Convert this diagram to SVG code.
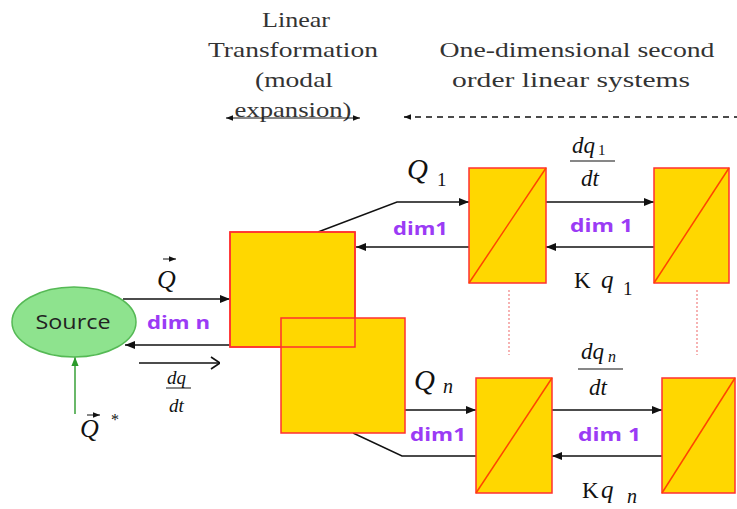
<svg xmlns="http://www.w3.org/2000/svg" width="737" height="509" viewBox="0 0 737 509">
<defs>
<marker id="ah" viewBox="0 0 10 10" refX="10" refY="5" markerWidth="10" markerHeight="10" markerUnits="userSpaceOnUse" orient="auto">
<path d="M0,1 L10,5 L0,9 z" fill="#111"/>
</marker>
<marker id="ahs" viewBox="0 0 10 10" refX="10" refY="5" markerWidth="7" markerHeight="7" markerUnits="userSpaceOnUse" orient="auto-start-reverse">
<path d="M0,1 L10,5 L0,9 z" fill="#111"/>
</marker>
<marker id="open" viewBox="0 0 10 14" refX="10" refY="7" markerWidth="10" markerHeight="14" markerUnits="userSpaceOnUse" orient="auto">
<path d="M1,1 L10,7 L1,13" fill="none" stroke="#111" stroke-width="1.6"/>
</marker>
<marker id="gh" viewBox="0 0 10 10" refX="10" refY="5" markerWidth="9" markerHeight="9" markerUnits="userSpaceOnUse" orient="auto">
<path d="M0,1 L10,5 L0,9 z" fill="#2a9a2a"/>
</marker>
</defs>
<style>
.title{font-family:"Liberation Serif",serif;font-size:21px;fill:#333;text-anchor:middle}
.blk{fill:#FFD700;stroke:#FF3030;stroke-width:1.5}
.diag{stroke:#FF4500;stroke-width:1.5}
.ln{fill:none;stroke:#111;stroke-width:1.4}
.dim{font-family:"Open Sans","Liberation Sans",sans-serif;font-weight:bold;font-size:18px;fill:#9B3BF5}
.m{font-family:"Liberation Serif",serif;font-style:italic;fill:#111}
.r{font-family:"Liberation Serif",serif;fill:#111}
.dots{stroke:#F08080;stroke-width:1.2;stroke-dasharray:2 2}
</style>
<g id="titles">
<text class="title" x="296" y="27" textLength="68" lengthAdjust="spacingAndGlyphs">Linear</text>
<text class="title" x="293" y="57" textLength="170" lengthAdjust="spacingAndGlyphs">Transformation</text>
<text class="title" x="294" y="87" textLength="78" lengthAdjust="spacingAndGlyphs">(modal</text>
<text class="title" x="293" y="117" textLength="117" lengthAdjust="spacingAndGlyphs">expansion)</text>
<text class="title" x="577" y="57" textLength="275" lengthAdjust="spacingAndGlyphs">One-dimensional second</text>
<text class="title" x="571" y="87" textLength="238" lengthAdjust="spacingAndGlyphs">order linear systems</text>
</g>
<g id="connectors">
<line x1="226" y1="118" x2="360" y2="118" stroke="#111" stroke-width="1" marker-start="url(#ahs)" marker-end="url(#ahs)"/>
<line x1="404" y1="117" x2="737" y2="117" stroke="#111" stroke-width="1.3" stroke-dasharray="6 5" marker-start="url(#ahs)"/>
<line class="ln" x1="123" y1="299" x2="230" y2="299" marker-end="url(#ah)"/>
<line class="ln" x1="230" y1="345" x2="125" y2="345" marker-end="url(#ah)"/>
<line class="ln" x1="139" y1="363" x2="220" y2="363" marker-end="url(#open)"/>
<line x1="75" y1="414" x2="75" y2="357" stroke="#2a9a2a" stroke-width="1.4" marker-end="url(#gh)"/>
<polyline class="ln" points="318,232 397,202 469,202" marker-end="url(#ah)"/>
<line class="ln" x1="469" y1="247" x2="356" y2="247" marker-end="url(#ah)"/>
<line class="ln" x1="546" y1="202" x2="654" y2="202" marker-end="url(#ah)"/>
<line class="ln" x1="654" y1="247" x2="546" y2="247" marker-end="url(#ah)"/>
<line class="ln" x1="405" y1="410" x2="476" y2="410" marker-end="url(#ah)"/>
<polyline class="ln" points="476,456 402,456 353,433"/>
<line class="ln" x1="552" y1="410" x2="662" y2="410" marker-end="url(#ah)"/>
<line class="ln" x1="662" y1="456" x2="552" y2="456" marker-end="url(#ah)"/>
<line class="dots" x1="509" y1="290" x2="509" y2="355"/>
<line class="dots" x1="697" y1="290" x2="697" y2="355"/>
</g>
<g id="source">
<ellipse cx="74" cy="322" rx="62" ry="35" fill="#8EE38E" stroke="#55B955" stroke-width="1.5"/>
<text x="73" y="329" text-anchor="middle" font-family="'Open Sans','Liberation Sans',sans-serif" font-size="20" fill="#222" textLength="75" lengthAdjust="spacingAndGlyphs">Source</text>
</g>
<g id="transform-1">
<rect class="blk" x="230" y="232" width="125" height="115"/>
</g>
<g id="transform-n">
<rect class="blk" x="281" y="318" width="124" height="115"/>
<rect x="230" y="232" width="125" height="115" fill="none" stroke="#FF3030" stroke-width="1.5"/>
</g>
<g id="sys1-a">
<rect class="blk" x="469" y="168" width="77" height="115"/>
<line class="diag" x1="469" y1="283" x2="546" y2="168"/>
</g>
<g id="sys1-b">
<rect class="blk" x="654" y="168" width="75" height="115"/>
<line class="diag" x1="654" y1="283" x2="729" y2="168"/>
</g>
<g id="sysn-a">
<rect class="blk" x="476" y="378" width="76" height="115"/>
<line class="diag" x1="476" y1="493" x2="552" y2="378"/>
</g>
<g id="sysn-b">
<rect class="blk" x="662" y="378" width="73" height="115"/>
<line class="diag" x1="662" y1="493" x2="735" y2="378"/>
</g>
<g id="labels">
<text class="m" x="157" y="288" font-size="26">Q</text>
<line x1="163" y1="259" x2="176" y2="259" stroke="#111" stroke-width="1" marker-end="url(#ahs)"/>
<text class="dim" x="147" y="329" textLength="63" lengthAdjust="spacingAndGlyphs">dim n</text>
<text class="m" x="167" y="384" font-size="19">dq</text>
<line x1="166" y1="388" x2="191" y2="388" stroke="#111" stroke-width="1"/>
<text class="m" x="169" y="412" font-size="19">dt</text>
<text class="m" x="80" y="437" font-size="26">Q</text>
<line x1="87" y1="415" x2="100" y2="415" stroke="#111" stroke-width="1" marker-end="url(#ahs)"/>
<text class="r" x="111" y="425" font-size="16">*</text>
<text class="m" x="407" y="179" font-size="29">Q</text>
<text class="r" x="437" y="186" font-size="19">1</text>
<text class="dim" x="393" y="235" textLength="55" lengthAdjust="spacingAndGlyphs">dim1</text>
<text class="m" x="572" y="153" font-size="23">dq</text>
<text class="r" x="598" y="155" font-size="15">1</text>
<line x1="570" y1="161" x2="615" y2="161" stroke="#111" stroke-width="1.2"/>
<text class="m" x="581" y="186" font-size="23">dt</text>
<text class="dim" x="570" y="232" textLength="63" lengthAdjust="spacingAndGlyphs">dim 1</text>
<text class="r" x="574" y="288" font-size="23">K</text>
<text class="m" x="601" y="288" font-size="25">q</text>
<text class="r" x="623" y="295" font-size="19">1</text>
<text class="m" x="414" y="390" font-size="29">Q</text>
<text class="m" x="443" y="393" font-size="20">n</text>
<text class="dim" x="410" y="441" textLength="56" lengthAdjust="spacingAndGlyphs">dim1</text>
<text class="m" x="581" y="359" font-size="23">dq</text>
<text class="m" x="608" y="362" font-size="16">n</text>
<line x1="578" y1="369" x2="623" y2="369" stroke="#111" stroke-width="1.2"/>
<text class="m" x="589" y="395" font-size="23">dt</text>
<text class="dim" x="578" y="441" textLength="63" lengthAdjust="spacingAndGlyphs">dim 1</text>
<text class="r" x="582" y="498" font-size="23">K</text>
<text class="m" x="601" y="498" font-size="25">q</text>
<text class="m" x="627" y="503" font-size="20">n</text>
</g>
</svg>
